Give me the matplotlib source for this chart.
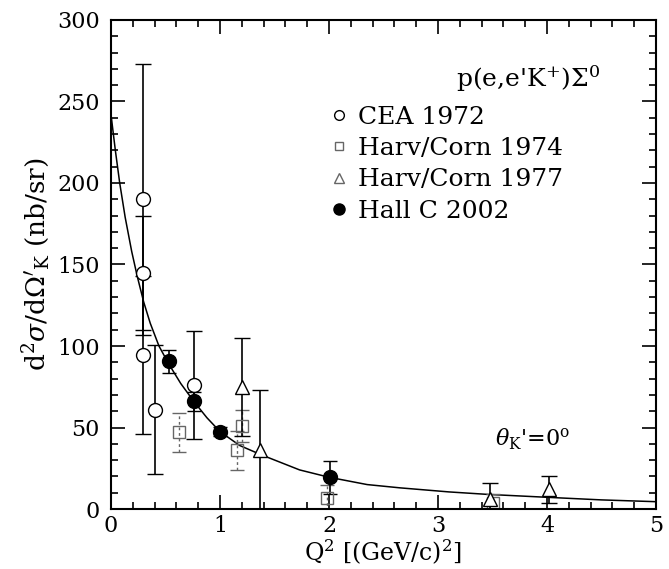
import numpy as np
import matplotlib
matplotlib.use("Agg")
import matplotlib.pyplot as plt
from matplotlib.lines import Line2D
from matplotlib.ticker import MultipleLocator

plt.rcParams['font.family'] = ['DejaVu Serif']
plt.rcParams['mathtext.fontset'] = 'dejavuserif'

# --- data ---
cea_x = [0.29, 0.29, 0.29, 0.40, 0.76]
cea_y = [190, 145, 94.5, 61, 76]
cea_err = [83, 35, 48.5, 39.5, 33]

hc74_x = [0.62, 1.20, 1.16, 1.98, 3.50]
hc74_y = [47, 51, 36, 7, 4]
hc74_err = [12, 10, 12, 8, 5]

hc77_x = [1.20, 1.37, 3.48, 4.02]
hc77_y = [75, 36, 6, 12]
hc77_err = [30, 37, 10, 8]

hallc_x = [0.53, 0.76, 1.00, 2.01]
hallc_y = [90.5, 66, 47.5, 19.5]
hallc_err = [7, 6, 3, 10]

# fitted curve
fit_x = [0.0, 0.04, 0.08, 0.13, 0.19, 0.24, 0.30, 0.36, 0.44, 0.53, 0.64, 0.76, 0.88,
         1.0, 1.18, 1.37, 1.73, 2.0, 2.35, 2.65, 3.1, 3.45, 4.0, 4.5, 5.0]
fit_y = [242, 220, 200, 179, 158, 143, 127, 114, 100, 89, 77, 66, 56,
         47.5, 39, 33.5, 24, 19.5, 15, 13, 10.5, 9, 7.2, 5.6, 4.5]

labels = ['CEA 1972', 'Harv/Corn 1974', 'Harv/Corn 1977', 'Hall C 2002']

fig = plt.figure(figsize=(6.69, 5.69), dpi=100)
ax = fig.add_axes([0.1659, 0.1054, 0.8147, 0.8595])

ax.plot(fit_x, fit_y, color='black', lw=1.1)

# --- data points ---
eb = ax.errorbar(hc74_x, hc74_y, yerr=hc74_err, fmt='s', ms=8, mfc='none',
                 mec='0.4', ecolor='0.4', elinewidth=1.0, capsize=5, ls='none')
for c in eb[2]:
    c.set_linestyle((0, (2, 2)))
ax.errorbar(hc77_x, hc77_y, yerr=hc77_err, fmt='^', ms=10, mfc='white',
            mec='black', ecolor='black', elinewidth=1.2, capsize=6)
ax.errorbar(cea_x, cea_y, yerr=cea_err, fmt='o', ms=10, mfc='white',
            mec='black', ecolor='black', elinewidth=1.2, capsize=6)
ax.errorbar(hallc_x, hallc_y, yerr=hallc_err, fmt='o', ms=10, mfc='black',
            mec='black', ecolor='black', elinewidth=1.2, capsize=5)

# --- axes ---
ax.set_xlim(0, 5)
ax.set_ylim(0, 300)
ax.xaxis.set_major_locator(MultipleLocator(1))
ax.xaxis.set_minor_locator(MultipleLocator(0.2))
ax.yaxis.set_major_locator(MultipleLocator(50))
ax.yaxis.set_minor_locator(MultipleLocator(10))
ax.tick_params(which='both', direction='in', top=True, right=True,
               labelsize=16, width=1.2)
ax.tick_params(which='major', length=10)
ax.tick_params(axis='y', which='major', pad=8)
ax.tick_params(axis='x', which='major', pad=4)
ax.tick_params(which='minor', length=5)
for s in ax.spines.values():
    s.set_linewidth(1.5)

fig.text(0.573, 0.004, r"Q$^2$ [(GeV/c)$^2$]", fontsize=17,
         ha='center', va='bottom')
ax.set_ylabel(r"d$^2\sigma$/d$\Omega'_{\rm K}$ (nb/sr)", fontsize=19, labelpad=4)

ax.text(0.898, 0.881, r"p(e,e'K$^{+}$)$\Sigma^0$", transform=ax.transAxes,
        ha='right', va='center', fontsize=18)
ax.text(0.842, 0.142, r"$\theta_{\rm K}$'=0$^{\rm o}$", transform=ax.transAxes,
        ha='right', va='center', fontsize=16)

handles = [
    Line2D([], [], marker='o', ls='none', ms=7, mfc='white', mec='black'),
    Line2D([], [], marker='s', ls='none', ms=6, mfc='none', mec='0.4'),
    Line2D([], [], marker='^', ls='none', ms=7, mfc='white', mec='0.4'),
    Line2D([], [], marker='o', ls='none', ms=8, mfc='black', mec='black'),
]
ax.legend(handles, labels, loc='upper left', bbox_to_anchor=(0.38, 0.85),
          frameon=False, fontsize=18, handlelength=0.7, handletextpad=0.4,
          labelspacing=0.33, borderpad=0)

fig.savefig('out.png', dpi=100)
